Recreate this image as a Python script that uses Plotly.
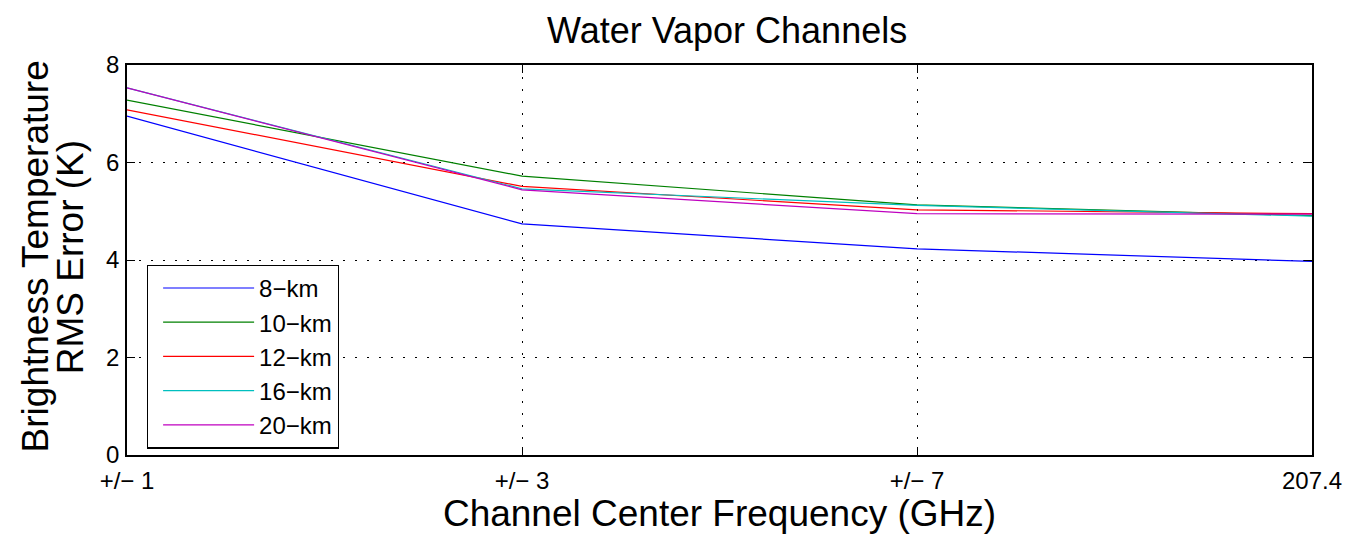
import plotly.graph_objects as go

# Channel positions and labels
channels = [0, 1, 2, 3]
channel_labels = ["+/− 1", "+/− 3", "+/− 7", "207.4"]

# RMS brightness temperature error (K) per footprint size
series_names = ["8−km", "10−km", "12−km", "16−km", "20−km"]
rms_8km = [6.95, 4.74, 4.23, 3.97]
rms_10km = [7.28, 5.72, 5.13, 4.91]
rms_12km = [7.08, 5.51, 5.03, 4.95]
rms_16km = [7.53, 5.46, 5.12, 4.90]
rms_20km = [7.53, 5.44, 4.95, 4.94]
series_values = [rms_8km, rms_10km, rms_12km, rms_16km, rms_20km]
series_colors = ["#0000ff", "#008000", "#ff0000", "#00bfbf", "#bf00bf"]

# y-axis label, drawn as two tightly spaced rotated lines
ylabel_lines = ["Brightness Temperature", "RMS Error (K)"]

fig = go.Figure()
for name, vals, col in zip(series_names, series_values, series_colors):
    fig.add_trace(go.Scatter(
        x=channels, y=vals, mode="lines", name=name,
        line=dict(color=col, width=1.2),
    ))

font_family = "Liberation Sans, Arial, Helvetica, sans-serif"
grid_dash = "2px,10px"

# plot area in pixels: left 127, right 1319, top 65, bottom 455
plot_left, plot_width = 127, 1192
for xpix, txt in zip([35, 71], ylabel_lines):
    fig.add_annotation(
        text=txt, textangle=-90, showarrow=False,
        xref="paper", yref="paper",
        x=(xpix - plot_left) / plot_width, y=0.508,
        xanchor="center", yanchor="middle",
        font=dict(size=37, family=font_family, color="black"),
    )

fig.update_layout(
    width=1354, height=534,
    margin=dict(l=127, r=35, t=65, b=79),
    paper_bgcolor="white", plot_bgcolor="white",
    font=dict(family=font_family, color="black", size=24),
    title=dict(text="Water Vapor Channels", x=0.537, xanchor="center",
               y=0.943, yanchor="middle", font=dict(size=36)),
    showlegend=True,
    legend=dict(
        x=0.0168, y=0.488, xanchor="left", yanchor="top",
        bordercolor="black", borderwidth=1.2, bgcolor="white",
        font=dict(size=24), itemwidth=91, tracegroupgap=0, indentation=10,
    ),
    xaxis=dict(
        range=[0, 3], tickmode="array", tickvals=channels, ticktext=channel_labels,
        showgrid=True, gridcolor="black", griddash=grid_dash, gridwidth=1,
        showline=True, linecolor="black", linewidth=1.5, mirror="ticks",
        ticks="inside", ticklen=8, tickcolor="black",
        zeroline=False, ticklabelstandoff=3,
        title=dict(text="Channel Center Frequency (GHz)", font=dict(size=37), standoff=0),
        tickfont=dict(size=24),
    ),
    yaxis=dict(
        range=[0, 8], tickmode="array", tickvals=[0, 2, 4, 6, 8],
        showgrid=True, gridcolor="black", griddash=grid_dash, gridwidth=1,
        showline=True, linecolor="black", linewidth=1.5, mirror="ticks",
        ticks="inside", ticklen=8, tickcolor="black",
        zeroline=False, ticklabelstandoff=1,
        tickfont=dict(size=24),
    ),
)

fig.write_html("out.html")
